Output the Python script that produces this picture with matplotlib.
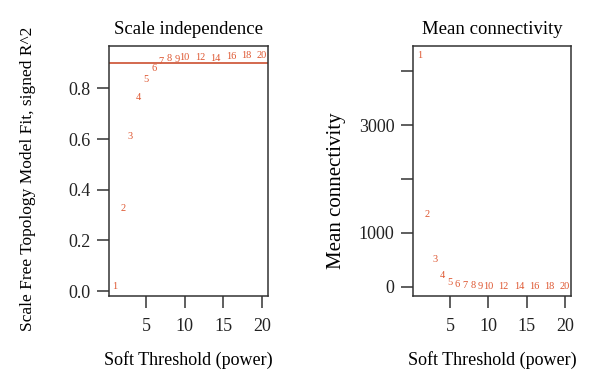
import matplotlib
matplotlib.use("Agg")
import matplotlib.pyplot as plt

powers = [1, 2, 3, 4, 5, 6, 7, 8, 9, 10, 12, 14, 16, 18, 20]
sft_r2 = [0.017, 0.325, 0.610, 0.764, 0.836, 0.877, 0.907, 0.918, 0.915,
          0.922, 0.922, 0.919, 0.925, 0.931, 0.929]
mean_k = [4300, 1350, 509, 211, 88, 45, 28, 19, 13, 9, 5, 3, 2, 1.5, 1]
r2_cut = 0.90

plt.rcParams['font.family'] = ['Liberation Serif', 'DejaVu Serif']
txt_col = "#de5630"
line_col = "#c8401e"
edge = "#333333"

fig = plt.figure(figsize=(6.0, 3.87), dpi=100)
ax1 = fig.add_axes([0.1817, 0.2351, 0.2650, 0.6460])
ax2 = fig.add_axes([0.6890, 0.2351, 0.2623, 0.6460])

def style(ax):
    for s in ax.spines.values():
        s.set_color(edge)
        s.set_linewidth(1.1)
    ax.tick_params(direction='out', length=8.5, width=1.1, color=edge,
                   labelsize=13, pad=5, labelcolor='#222222')
    ax.tick_params(axis='x', pad=7)
    ax.set_xticks([5, 10, 15, 20])
    ax.set_xlim(0.24, 20.76)

# Left panel
for p, v in zip(powers, sft_r2):
    ax1.text(p, v, str(p), color=txt_col, fontsize=7.5, ha='center', va='center')
ax1.axhline(r2_cut, color=line_col, lw=1.1)
lo, hi = min(sft_r2), max(sft_r2)
pad = 0.04 * (hi - lo)
ax1.set_ylim(lo - pad, hi + pad)
ax1.set_yticks([0.0, 0.2, 0.4, 0.6, 0.8])
ax1.set_yticklabels(["0.0", "0.2", "0.4", "0.6", "0.8"])
style(ax1)
ax1.set_title("Scale independence", fontsize=13.5, pad=9)
ax1.set_xlabel("Soft Threshold (power)", fontsize=13, labelpad=12)
ax1.set_ylabel("Scale Free Topology Model Fit, signed R^2", fontsize=12.5)
ax1.yaxis.set_label_coords(-0.46, 0.47)

# Right panel
for p, v in zip(powers, mean_k):
    ax2.text(p, v, str(p), color=txt_col, fontsize=7.5, ha='center', va='center')
lo, hi = min(mean_k), max(mean_k)
pad = 0.04 * (hi - lo)
ax2.set_ylim(lo - pad, hi + pad)
ax2.set_yticks([0, 1000, 2000, 3000, 4000])
ax2.set_yticklabels(["0", "1000", "", "3000", ""])
style(ax2)
ax2.set_title("Mean connectivity", fontsize=13.5, pad=9)
ax2.set_xlabel("Soft Threshold (power)", fontsize=13, labelpad=12)
ax2.set_ylabel("Mean connectivity", fontsize=15)
ax2.yaxis.set_label_coords(-0.43, 0.42)

fig.savefig("out.png", dpi=100)
